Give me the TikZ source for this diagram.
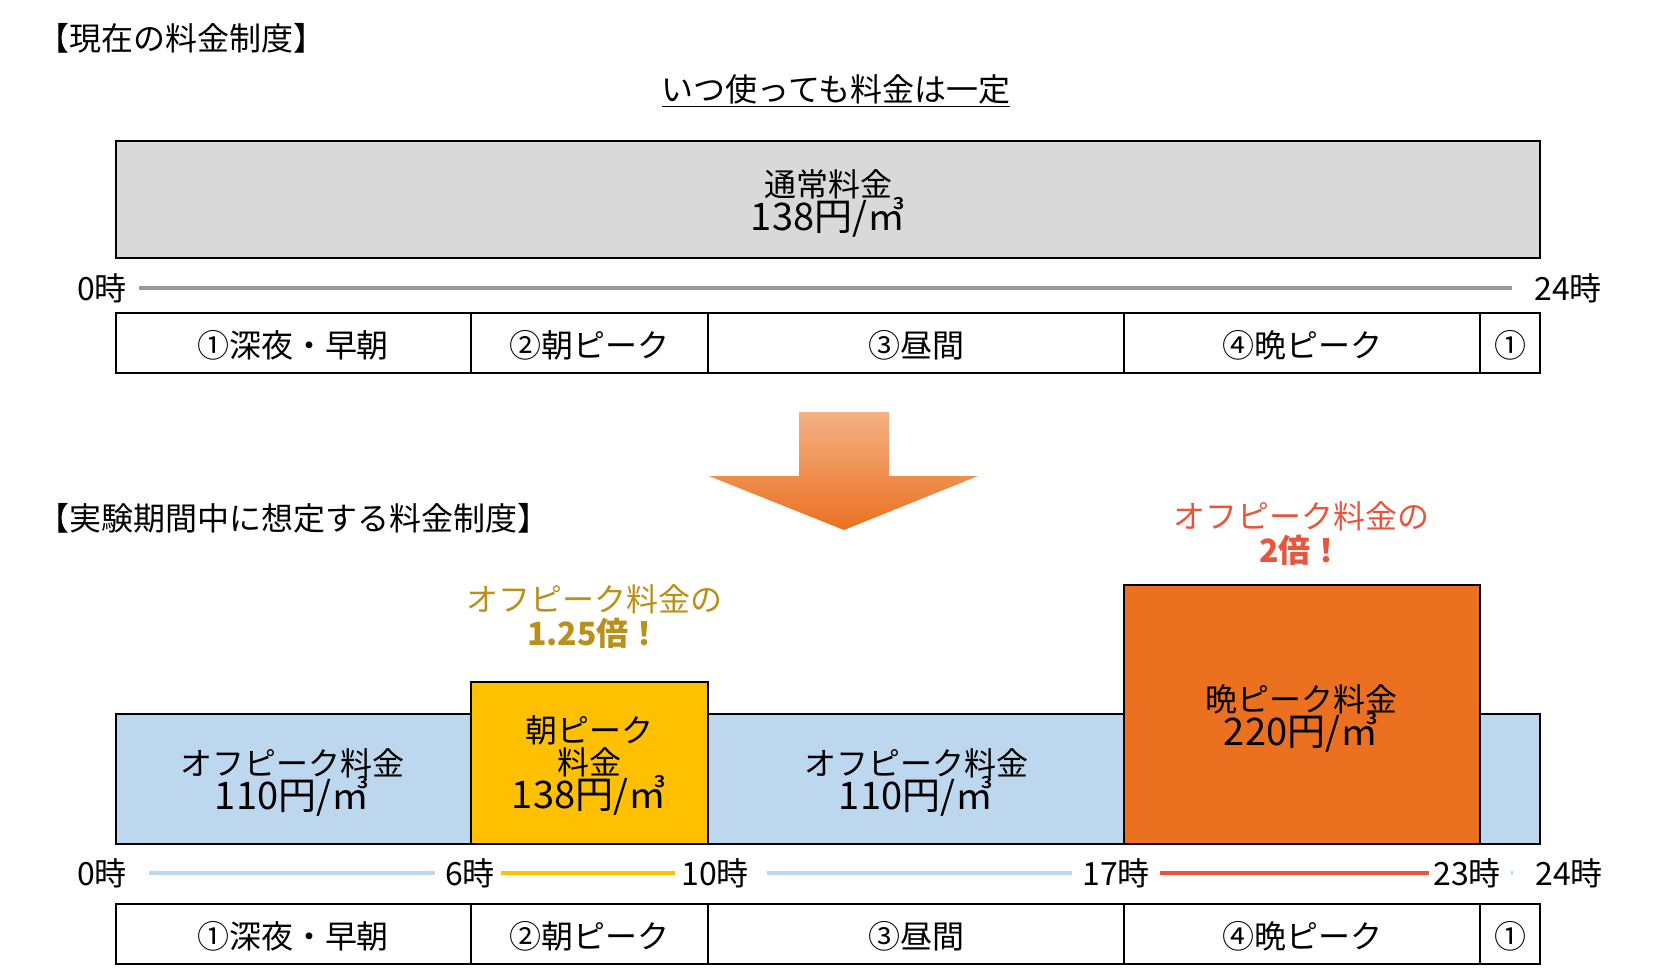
\documentclass[tikz,border=0pt]{standalone}
\usepackage{fontspec}
\setmainfont{Noto Sans CJK JP}
\definecolor{boxgray}{HTML}{D9D9D9}
\definecolor{offblue}{HTML}{BDD7EE}
\definecolor{peakyellow}{HTML}{FFC000}
\definecolor{peakorange}{HTML}{EB7020}
\definecolor{redtxt}{HTML}{E8553A}
\definecolor{goldtxt}{HTML}{B8901A}
\newcommand{\lbl}{\fontsize{16}{19}\selectfont}
\newcommand{\num}{\fontsize{19}{22}\selectfont}
\tikzset{
  band/.style={draw=black, line width=0.9pt},
  slot/.style={font=\lbl},
  hour/.style={font=\lbl, inner sep=1pt},
  tline/.style={line width=2pt},
}
\begin{document}
\begin{tikzpicture}[x=0.5pt,y=-0.5pt]
\useasboundingbox (0,0) rectangle (1678,976);

% current plan
\node (title1) [anchor=west, font=\lbl] at (30,38) {【現在の料金制度】};
\node (sub1) [font=\lbl] at (836,91) {\underline{いつ使っても料金は一定}};
\draw [band, fill=boxgray] (116,141) rectangle (1540,258);
\node (now) [font=\lbl, align=center] at (828,203) {通常料金\\[-2pt]{\num 138円/㎥}};
\node (h0a) [hour] at (102,288) {0時};
\node (h24a) [hour] at (1568,288) {24時};
\draw [tline, gray!80] (h0a.east) ++(10,0) -- ([xshift=-10]h24a.west);
\draw [band] (116,313) rectangle (1540,373);
\foreach \x in {471,708,1124,1480} \draw [band] (\x,313) -- (\x,373);
\node [slot] at (293,345) {①深夜・早朝};
\node [slot] at (589,345) {②朝ピーク};
\node [slot] at (916,345) {③昼間};
\node [slot] at (1302,345) {④晩ピーク};
\node [slot] at (1510,345) {①};

% arrow
\shade [top color=peakorange!55, bottom color=peakorange] (799,412) -- (889,412) -- (889,476) -- (978,476) -- (844,530) -- (709,476) -- (799,476) -- cycle;

% trial plan
\node (title2) [anchor=west, font=\lbl] at (30,518) {【実験期間中に想定する料金制度】};
\draw [band, fill=offblue] (116,714) rectangle (471,844);
\draw [band, fill=offblue] (708,714) rectangle (1124,844);
\draw [band, fill=offblue] (1480,714) rectangle (1540,844);
\draw [band, fill=peakyellow] (471,682) rectangle (708,844);
\draw [band, fill=peakorange] (1124,585) rectangle (1480,844);
\node (off1) [font=\lbl, align=center] at (292,782) {オフピーク料金\\[-2pt]{\num 110円/㎥}};
\node (morn) [font=\lbl, align=center] at (589,765) {朝ピーク\\[-3pt]料金\\[-2pt]{\num 138円/㎥}};
\node (off2) [font=\lbl, align=center] at (916,782) {オフピーク料金\\[-2pt]{\num 110円/㎥}};
\node (eve) [font=\lbl, align=center] at (1301,718) {晩ピーク料金\\[-2pt]{\num 220円/㎥}};
\node (note1) [font=\lbl, text=goldtxt, align=center] at (594,617) {オフピーク料金の\\[-2pt]\textbf{1.25倍！}};
\node (note2) [font=\lbl, text=redtxt, align=center] at (1301,534) {オフピーク料金の\\[-2pt]\textbf{2倍！}};

\node (h0) [hour] at (102,873) {0時};
\node (h6) [hour] at (470,873) {6時};
\node (h10) [hour] at (715,873) {10時};
\node (h17) [hour] at (1116,873) {17時};
\node (h23) [hour] at (1467,873) {23時};
\node (h24) [hour] at (1569,873) {24時};
\draw [tline, offblue] ([xshift=10]h0.east) -- ([xshift=-4]h6.west);
\draw [tline, peakyellow] ([xshift=2]h6.east) -- ([xshift=-2]h10.west);
\draw [tline, offblue] ([xshift=8]h10.east) -- ([xshift=-4]h17.west);
\draw [tline, redtxt] ([xshift=4]h17.east) -- ([xshift=-1]h23.west);
\draw [tline, offblue] ([xshift=4]h23.east) -- ([xshift=-10]h24.west);
\draw [band] (116,904) rectangle (1540,964);
\foreach \x in {471,708,1124,1480} \draw [band] (\x,904) -- (\x,964);
\node [slot] at (293,936) {①深夜・早朝};
\node [slot] at (589,936) {②朝ピーク};
\node [slot] at (916,936) {③昼間};
\node [slot] at (1302,936) {④晩ピーク};
\node [slot] at (1510,936) {①};
\end{tikzpicture}
\end{document}
